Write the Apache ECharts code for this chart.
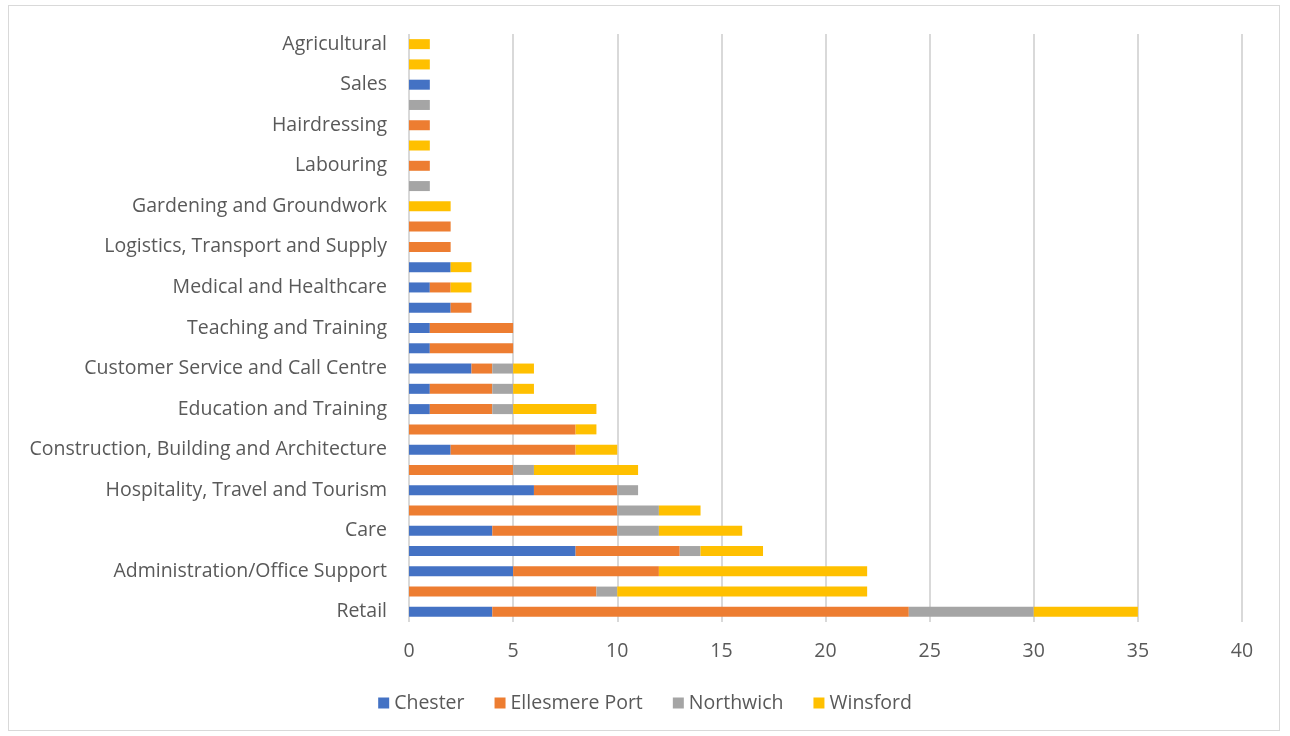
<!DOCTYPE html>
<html><head><meta charset="utf-8">
<script src="https://cdn.jsdelivr.net/npm/echarts@6/dist/echarts.min.js"></script>
<style>
html,body{margin:0;padding:0;background:#fff;}
#frame{position:absolute;left:8px;top:5px;width:1272px;height:726px;border:1.5px solid #d9d9d9;box-sizing:border-box;}
#c{position:absolute;left:0;top:0;width:1290px;height:736px;}
</style></head>
<body>
<div id="frame"></div>
<div id="c"></div>
<script>
// categories bottom -> top (every other label is hidden in the original)
const categories = [
  "Retail", "Warehouse", "Administration/Office Support", "Cleaning", "Care",
  "Manufacturing", "Hospitality, Travel and Tourism", "Catering", "Construction, Building and Architecture",
  "Engineering", "Education and Training", "Security", "Customer Service and Call Centre",
  "Childcare", "Teaching and Training", "Finance", "Medical and Healthcare", "IT",
  "Logistics, Transport and Supply", "Driving", "Gardening and Groundwork", "Leisure",
  "Labouring", "Animal Care", "Hairdressing", "Beauty", "Sales", "Marketing", "Agricultural"
];
const chester   = [4,0,5,8,4,0,6,0,2,0,1,1,3,1,1,2,1,2,0,0,0,0,0,0,0,0,1,0,0];
const ellesmere = [20,9,7,5,6,10,4,5,6,8,3,3,1,4,4,1,1,0,2,2,0,0,1,0,1,0,0,0,0];
const northwich = [6,1,0,1,2,2,1,1,0,0,1,1,1,0,0,0,0,0,0,0,0,1,0,0,0,1,0,0,0];
const winsford  = [5,12,10,3,4,2,0,5,2,1,4,1,1,0,0,0,1,1,0,0,2,0,0,1,0,0,0,1,1];
const xTicks = [0,5,10,15,20,25,30,35,40];

const names = ["Chester","Ellesmere Port","Northwich","Winsford"];
const colors = ["#4472c4","#ed7d31","#a5a5a5","#ffc000"];
const datas = [chester, ellesmere, northwich, winsford];
const font = "'Open Sans', 'Liberation Sans', sans-serif";
const fs = 19.5;

const chart = echarts.init(document.getElementById('c'));
chart.setOption({
  animation:false,
  color: colors,
  grid:{left:409,right:48,top:34,bottom:114,containLabel:false},
  xAxis:{
    type:'value', min:xTicks[0], max:xTicks[xTicks.length-1], interval:5,
    axisLine:{show:false}, axisTick:{show:false},
    splitLine:{show:true,lineStyle:{color:'#d9d9d9',width:2}},
    axisLabel:{color:'#595959',fontSize:fs,fontFamily:font,margin:19}
  },
  yAxis:{
    type:'category', data:categories,
    axisLine:{show:false}, axisTick:{show:false},
    axisLabel:{interval:1,color:'#595959',fontSize:fs,fontFamily:font,margin:22}
  },
  legend:{
    bottom:18, left:'center', itemWidth:11, itemHeight:11, itemGap:30,
    icon:'rect',
    textStyle:{color:'#595959',fontSize:fs,fontFamily:font},
    data:names
  },
  series: names.map((n,i)=>({
    name:n, type:'bar', stack:'total', data:datas[i], barWidth:10,
    itemStyle:{color:colors[i]}
  }))
});
</script>
</body></html>
